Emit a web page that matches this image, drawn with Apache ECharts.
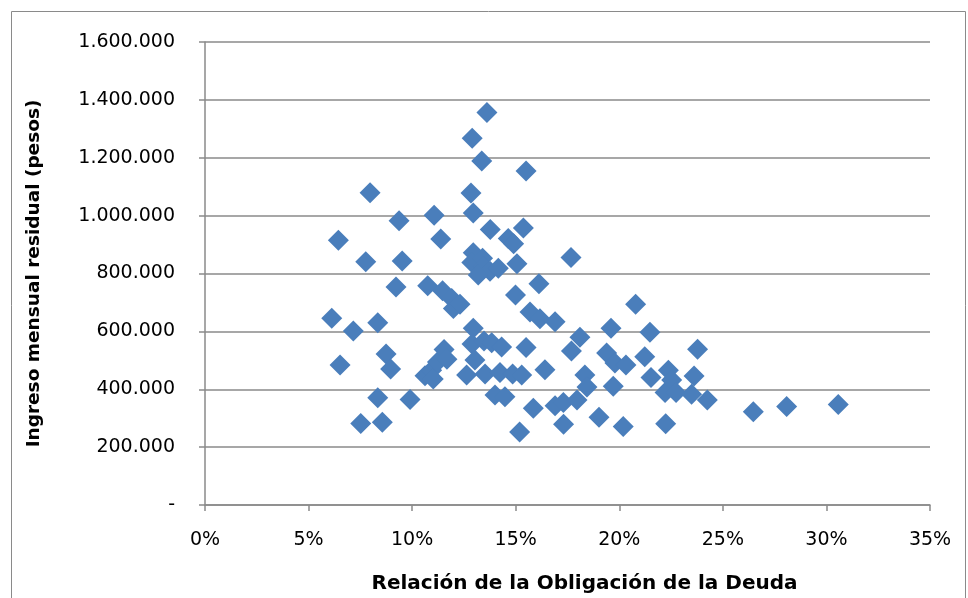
<!DOCTYPE html>
<html>
<head>
<meta charset="utf-8">
<script src="https://cdn.jsdelivr.net/npm/echarts@6/dist/echarts.min.js"></script>
<style>
html,body{margin:0;padding:0;background:#fff;}
#chart{width:968px;height:598px;}
</style>
</head>
<body>
<div id="chart"></div>
<script>
// Relación de la Obligación de la Deuda (%)
const debtRatio = [
  6.12, 6.44, 6.52, 7.16, 7.52, 7.76, 7.97, 8.34, 8.34, 8.56,
  8.74, 8.96, 9.22, 9.37, 9.52, 9.90, 10.62, 10.75, 10.94, 11.02,
  11.06, 11.22, 11.54, 11.68, 11.38, 11.47, 11.91, 11.99, 12.31, 12.84,
  12.90, 12.95, 13.36, 13.61, 13.77, 14.64, 14.90, 15.37, 15.50, 12.95,
  12.88, 13.40, 13.44, 13.76, 14.16, 13.19, 15.06, 16.12, 14.99, 15.69,
  16.17, 16.90, 12.95, 12.89, 13.47, 13.84, 14.32, 13.03, 12.63, 13.52,
  14.24, 14.85, 15.29, 15.50, 16.41, 14.00, 14.48, 15.85, 16.90, 17.30,
  17.96, 15.19, 17.31, 17.67, 18.10, 17.69, 18.34, 18.44, 19.02, 19.39,
  19.60, 19.71, 19.79, 20.19, 20.32, 20.79, 21.23, 21.48, 21.53, 22.24,
  22.21, 22.37, 22.53, 22.74, 23.49, 23.61, 23.78, 24.25, 26.47, 28.08,
  30.57
];
// Ingreso mensual residual (pesos)
const residualIncome = [
  645000, 915000, 484000, 601000, 282000, 841000, 1079000, 630000, 371000, 286000,
  522000, 470000, 753000, 982000, 843000, 365000, 447000, 758000, 466000, 435000,
  1001000, 494000, 537000, 504000, 919000, 740000, 714000, 679000, 694000, 1078000,
  1267000, 1009000, 1189000, 1356000, 952000, 921000, 903000, 957000, 1154000, 872000,
  838000, 853000, 823000, 808000, 818000, 795000, 834000, 765000, 726000, 667000,
  644000, 633000, 611000, 556000, 567000, 561000, 546000, 501000, 449000, 453000,
  458000, 453000, 449000, 544000, 467000, 380000, 374000, 334000, 343000, 354000,
  363000, 252000, 279000, 855000, 580000, 532000, 449000, 408000, 303000, 525000,
  611000, 410000, 491000, 271000, 484000, 694000, 512000, 597000, 441000, 281000,
  389000, 466000, 432000, 389000, 383000, 446000, 538000, 363000, 322000, 340000,
  347000
];
const xTicks = [0, 5, 10, 15, 20, 25, 30, 35];
const yTicks = [0, 200000, 400000, 600000, 800000, 1000000, 1200000, 1400000, 1600000];

const points = debtRatio.map((x, i) => [x, residualIncome[i]]);

function fmtThousands(v) {
  if (v === 0) return '-';
  return String(v).replace(/\B(?=(\d{3})+(?!\d))/g, '.');
}

const FONT = 'DejaVu Sans';
const gridColor = '#8a8a8a';

const chart = echarts.init(document.getElementById('chart'), null, {renderer: 'canvas'});
chart.setOption({
  animation: false,
  backgroundColor: '#ffffff',
  grid: {left: 205, right: 38, top: 42, bottom: 93, containLabel: false, outerBoundsMode: 'none'},
  xAxis: {
    type: 'value',
    min: xTicks[0],
    max: xTicks[xTicks.length - 1],
    interval: xTicks[1] - xTicks[0],
    name: 'Relación de la Obligación de la Deuda',
    nameLocation: 'middle',
    nameGap: 69,
    nameTextStyle: {fontFamily: FONT, fontWeight: 'bold', fontSize: 20, color: '#000', padding: [0, 0, 0, 34]},
    axisLine: {show: true, lineStyle: {color: gridColor, width: 1.5}},
    axisTick: {show: true, inside: false, length: 6, lineStyle: {color: gridColor, width: 1.5}},
    axisLabel: {fontFamily: FONT, fontSize: 19, color: '#000', margin: 26, formatter: v => v + '%'},
    splitLine: {show: false}
  },
  yAxis: {
    type: 'value',
    min: yTicks[0],
    max: yTicks[yTicks.length - 1],
    interval: yTicks[1] - yTicks[0],
    name: 'Ingreso mensual residual (pesos)',
    nameLocation: 'middle',
    nameGap: 161,
    nameRotate: 90,
    nameTextStyle: {fontFamily: FONT, fontWeight: 'bold', fontSize: 18.5, color: '#000'},
    axisLine: {show: true, lineStyle: {color: gridColor, width: 1.5}},
    axisTick: {show: true, inside: false, length: 6, lineStyle: {color: gridColor, width: 1.5}},
    axisLabel: {fontFamily: FONT, fontSize: 19, color: '#000', margin: 30, formatter: fmtThousands},
    splitLine: {show: true, lineStyle: {color: gridColor, width: 1.5}}
  },
  series: [{
    type: 'scatter',
    symbol: 'diamond',
    symbolSize: 21,
    itemStyle: {color: '#4a7ebb', opacity: 1},
    data: points
  }],
  graphic: [{
    type: 'rect',
    shape: {x: 11.5, y: 11.5, width: 954, height: 620},
    style: {fill: 'none', stroke: '#8a8a8a', lineWidth: 1},
    silent: true,
    z: -1
  }]
});
</script>
</body>
</html>
